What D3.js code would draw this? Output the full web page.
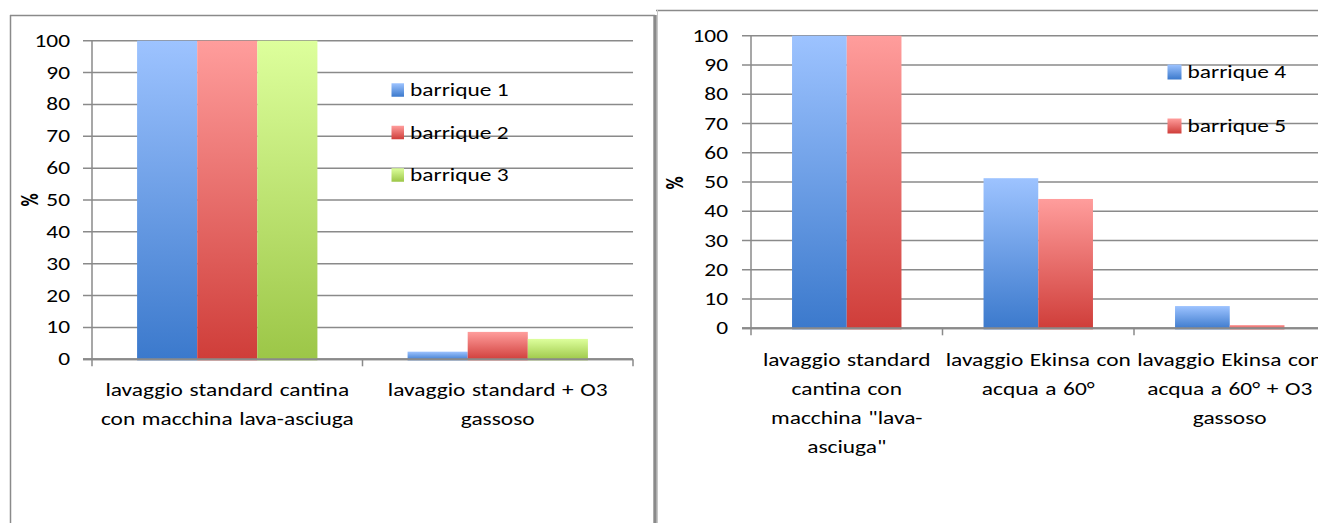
<!DOCTYPE html>
<html>
<head>
<meta charset="utf-8">
<script src="https://cdn.jsdelivr.net/npm/d3@7"></script>
<style>
  html, body { margin: 0; padding: 0; background: #fff; }
  svg { display: block; }
  text { font-family: Carlito, Calibri, Lato, sans-serif; fill: #000; }
</style>
</head>
<body>
<svg id="chart" width="1318" height="523"></svg>
<script>
// ---- data ----
const yTicks = [0, 10, 20, 30, 40, 50, 60, 70, 80, 90, 100];

const leftCategories = [
  "lavaggio standard cantina\ncon macchina lava-asciuga",
  "lavaggio standard + O3\ngassoso"
];
const leftSeries = ["barrique 1", "barrique 2", "barrique 3"];
const barrique1 = [100, 2.4];
const barrique2 = [100, 8.6];
const barrique3 = [100, 6.4];

const rightCategories = [
  "lavaggio standard\ncantina con\nmacchina \"lava-\nasciuga\"",
  "lavaggio Ekinsa con\nacqua a 60°",
  "lavaggio Ekinsa con\nacqua a 60° + O3\ngassoso"
];
const rightSeries = ["barrique 4", "barrique 5"];
const barrique4 = [100, 51.3, 7.6];
const barrique5 = [100, 44.2, 1.1];

// ---- styling ----
const palette = {
  blue:  ["#9dc3ff", "#3b79cc"],
  red:   ["#ff9d9c", "#cf3d39"],
  green: ["#ddff9c", "#9cc647"]
};
const gridColor = "#8a8a8a";
const textStretch = 1.3;   // wide-set lettering

const svg = d3.select("#chart");
const defs = svg.append("defs");
Object.entries(palette).forEach(([key, [top, bottom]]) => {
  const g = defs.append("linearGradient")
    .attr("id", "grad-" + key)
    .attr("x1", 0).attr("y1", 0).attr("x2", 0).attr("y2", 1);
  g.append("stop").attr("offset", "0%").attr("stop-color", top);
  g.append("stop").attr("offset", "100%").attr("stop-color", bottom);
});

// places a text at (x, y) stretched horizontally
function label(parent, x, y, str, opts = {}) {
  return parent.append("text")
    .attr("transform", `translate(${x},${y}) scale(${textStretch},1)` + (opts.rotate ? ` rotate(${opts.rotate})` : ""))
    .attr("text-anchor", opts.anchor || "start")
    .attr("dominant-baseline", "central")
    .attr("font-size", opts.size || 18)
    .attr("font-weight", opts.weight || "normal")
    .attr("word-spacing", opts.wordSpacing || 0)
    .text(str);
}

// ---- frames ----
const frames = svg.append("g");
frames.append("line").attr("x1", 10).attr("x2", 655).attr("y1", 15.5).attr("y2", 15.5)
  .attr("stroke", gridColor).attr("stroke-width", 1.5);
frames.append("line").attr("x1", 10.5).attr("x2", 10.5).attr("y1", 15).attr("y2", 523)
  .attr("stroke", gridColor).attr("stroke-width", 1.5);
frames.append("rect").attr("x", 653.3).attr("y", 15).attr("width", 3.4).attr("height", 508)
  .attr("fill", gridColor);
frames.append("line").attr("x1", 656).attr("x2", 1318).attr("y1", 10.5).attr("y2", 10.5)
  .attr("stroke", gridColor).attr("stroke-width", 1.5);
frames.append("line").attr("x1", 657.5).attr("x2", 657.5).attr("y1", 10).attr("y2", 523)
  .attr("stroke", "#c8c8c8").attr("stroke-width", 1);

function drawChart(cfg) {
  const g = svg.append("g");
  const y = d3.scaleLinear().domain([0, 100]).range([cfg.y0, cfg.y1]);
  const x0 = d3.scaleBand().domain(cfg.categories).range([cfg.x0, cfg.x1]).padding(0);
  const x1 = d3.scaleBand().domain(cfg.series).range([0, x0.bandwidth()])
    .paddingInner(0).paddingOuter(0.75);

  // horizontal gridlines with tick marks
  g.append("g").selectAll("line").data(yTicks).join("line")
    .attr("x1", cfg.x0 - 9).attr("x2", cfg.gridEnd)
    .attr("y1", d => y(d)).attr("y2", d => y(d))
    .attr("stroke", gridColor).attr("stroke-width", d => d === 0 ? 2 : 1.5);

  // y tick labels
  const tl = g.append("g");
  yTicks.forEach(d => label(tl, cfg.tickLabelX, y(d), d, { anchor: "end" }));

  // bars
  cfg.series.forEach((s, i) => {
    g.append("g").selectAll("rect").data(cfg.values[i]).join("rect")
      .attr("x", (d, j) => x0(cfg.categories[j]) + x1(s))
      .attr("width", x1.bandwidth())
      .attr("y", d => y(d))
      .attr("height", d => y(0) - y(d) + 1)
      .attr("fill", "url(#grad-" + cfg.colors[i] + ")");
  });

  // axis lines drawn over bars
  g.append("line").attr("x1", cfg.x0).attr("x2", cfg.x0)
    .attr("y1", y(100)).attr("y2", y(0) + 7)
    .attr("stroke", gridColor).attr("stroke-width", 1.5);
  g.append("line").attr("x1", cfg.x0 - 9).attr("x2", cfg.gridEnd)
    .attr("y1", y(0)).attr("y2", y(0))
    .attr("stroke", gridColor).attr("stroke-width", 2);
  const catTicks = cfg.categories.map(c => x0(c) + x0.bandwidth());
  g.append("g").selectAll("line").data(catTicks).join("line")
    .attr("x1", d => d).attr("x2", d => d)
    .attr("y1", y(0)).attr("y2", y(0) + 7)
    .attr("stroke", gridColor).attr("stroke-width", 1.5);

  // category labels
  const cl = g.append("g");
  cfg.categories.forEach(c => {
    c.split("\n").forEach((ln, k) => {
      label(cl, x0(c) + x0.bandwidth() / 2, cfg.labelY + k * cfg.lineHeight, ln,
        { anchor: "middle", wordSpacing: 1 });
    });
  });

  // y axis title
  label(g, cfg.titleX, cfg.titleY, "%", { anchor: "middle", weight: "bold", rotate: -90 });

  // legend
  cfg.series.forEach((s, i) => {
    const cy = cfg.legendY + i * cfg.legendStep;
    g.append("rect")
      .attr("x", cfg.legendX).attr("y", cy - cfg.swatchH / 2)
      .attr("width", cfg.swatchW).attr("height", cfg.swatchH)
      .attr("fill", "url(#grad-" + cfg.colors[i] + ")");
    label(g, cfg.legendX + cfg.swatchW + 6, cy, s);
  });
}

drawChart({
  categories: leftCategories,
  series: leftSeries,
  values: [barrique1, barrique2, barrique3],
  colors: ["blue", "red", "green"],
  x0: 92, x1: 633, gridEnd: 633,
  y0: 359.3, y1: 40.7,
  tickLabelX: 70,
  labelY: 390, lineHeight: 29,
  titleX: 30, titleY: 200,
  legendX: 391.5, legendY: 90, legendStep: 42.5, swatchW: 12.5, swatchH: 13.5
});

drawChart({
  categories: rightCategories,
  series: rightSeries,
  values: [barrique4, barrique5],
  colors: ["blue", "red"],
  x0: 751, x1: 751 + 3 * 191.5, gridEnd: 1318,
  y0: 328.3, y1: 35.7,
  tickLabelX: 728,
  labelY: 360, lineHeight: 29,
  titleX: 675, titleY: 183,
  legendX: 1167.5, legendY: 72, legendStep: 54, swatchW: 14, swatchH: 15
});
</script>
</body>
</html>
